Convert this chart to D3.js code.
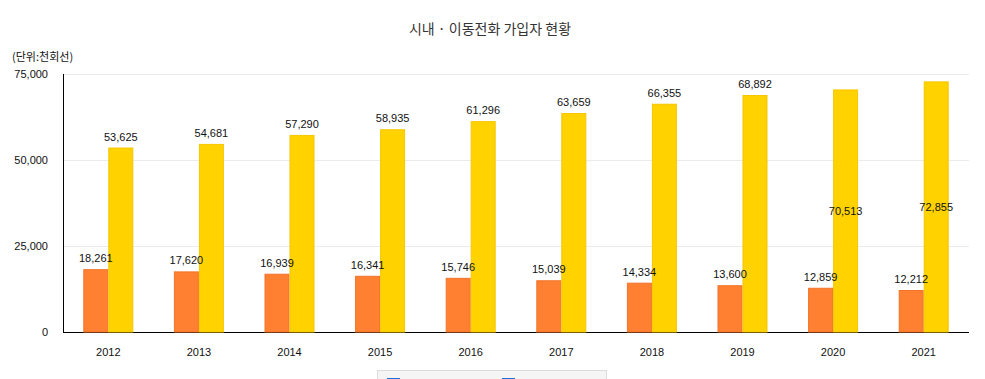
<!DOCTYPE html>
<html><head><meta charset="utf-8">
<script src="https://cdn.jsdelivr.net/npm/d3@7"></script>
<style>body{margin:0;background:#fff;}svg{display:block;font-family:"Liberation Sans",Arial,"Noto Sans CJK KR",sans-serif;}</style>
</head><body>
<svg id="c" width="985" height="379"></svg>
<script>
const years = ["2012","2013","2014","2015","2016","2017","2018","2019","2020","2021"];
const landline = [18261,17620,16939,16341,15746,15039,14334,13600,12859,12212];
const mobile = [53625,54681,57290,58935,61296,63659,66355,68892,70513,72855];
const yTicks = [0,25000,50000,75000];

const svg = d3.select("#c");
const m = {l:63, r:969, t:74, b:332};
const x = d3.scaleBand().domain(years).range([m.l, m.r]).paddingInner(0).paddingOuter(0);
const y = d3.scaleLinear().domain([0,75000]).range([m.b, m.t]);
const barW = 25;
const fmt = d3.format(",");

svg.append("text").attr("x",490).attr("y",34).attr("text-anchor","middle")
  .attr("font-family","'Noto Sans CJK KR',sans-serif").attr("font-size",14).attr("fill","#333")
  .text("시내 · 이동전화 가입자 현황");
svg.append("text").attr("x",12).attr("y",61)
  .attr("font-family","'Noto Sans CJK KR',sans-serif").attr("font-size",11).attr("fill","#111")
  .text("(단위:천회선)");

// grid
svg.append("g").selectAll("line").data(yTicks.filter(d=>d>0)).join("line")
  .attr("x1",m.l).attr("x2",m.r).attr("y1",d=>y(d)+0.5).attr("y2",d=>y(d)+0.5)
  .attr("stroke","#ebebeb");

// y axis
const ya = svg.append("g").attr("transform",`translate(${m.l},0)`)
  .call(d3.axisLeft(y).tickValues(yTicks).tickFormat(fmt).tickSize(0).tickPadding(15));
ya.select(".domain").attr("stroke","#000").attr("d",`M0.5,${m.t}V${m.b}`);
ya.selectAll("text").attr("font-size",11).attr("fill","#111").attr("font-family","'Liberation Sans',Arial,sans-serif");

// x axis
const xa = svg.append("g").attr("transform",`translate(0,${m.b})`)
  .call(d3.axisBottom(x).tickSize(0).tickPadding(16));
xa.select(".domain").attr("stroke","#000").attr("d",`M${m.l},0.5H${m.r}`);
xa.selectAll("text").attr("font-size",11).attr("fill","#111").attr("font-family","'Liberation Sans',Arial,sans-serif");

const cx = d => x(d) + x.bandwidth()/2;

// orange bars
svg.append("g").selectAll("rect").data(years).join("rect")
  .attr("x",d=>cx(d)-barW+0.5).attr("width",barW-1)
  .attr("y",(d,i)=>y(landline[i])+0.5).attr("height",(d,i)=>y(0)-y(landline[i])-0.5)
  .attr("fill","#FF8030").attr("stroke","#F2732A").attr("stroke-width",1);
// yellow bars
svg.append("g").selectAll("rect").data(years).join("rect")
  .attr("x",d=>cx(d)+0.5).attr("width",barW-1)
  .attr("y",(d,i)=>y(mobile[i])+0.5).attr("height",(d,i)=>y(0)-y(mobile[i])-0.5)
  .attr("fill","#FFD200").attr("stroke","#F5C600").attr("stroke-width",1);

// labels
svg.append("g").selectAll("text").data(years).join("text")
  .attr("x",d=>cx(d)-barW/2).attr("y",(d,i)=>y(landline[i])-7)
  .attr("text-anchor","middle").attr("font-size",11).attr("fill","#111")
  .text((d,i)=>fmt(landline[i]));
svg.append("g").selectAll("text").data(years).join("text")
  .attr("x",d=>cx(d)+barW/2)
  .attr("y",(d,i)=> y(mobile[i]) - 7 < m.t + 10 ? (y(mobile[i])+y(0))/2 + 4 : y(mobile[i]) - 7)
  .attr("text-anchor","middle").attr("font-size",11).attr("fill","#111")
  .text((d,i)=>fmt(mobile[i]));

// legend (partially visible)
svg.append("rect").attr("x",377.5).attr("y",370.5).attr("width",229).attr("height",20)
  .attr("fill","#f5f5f5").attr("stroke","#dcdcdc");
svg.append("rect").attr("x",387).attr("y",378).attr("width",13).attr("height",10).attr("fill","#1a6fd6");
svg.append("rect").attr("x",502).attr("y",378).attr("width",13).attr("height",10).attr("fill","#1a6fd6");
</script>
</body></html>
